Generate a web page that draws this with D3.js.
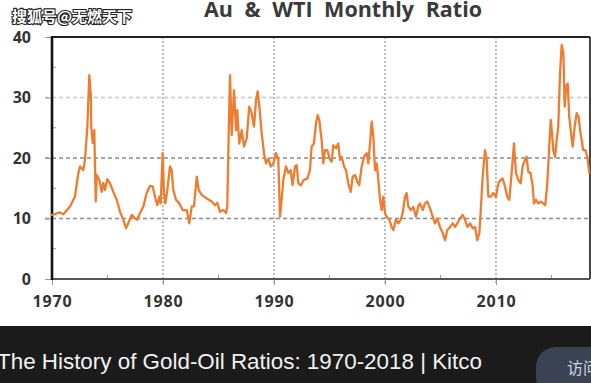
<!DOCTYPE html>
<html><head><meta charset="utf-8">
<script src="https://cdn.jsdelivr.net/npm/d3@7"></script>
<style>
html,body{margin:0;padding:0;background:#fff;overflow:hidden;}
svg{display:block;}
</style></head>
<body>
<svg id="c" width="591" height="383"></svg>
<script>
const titleText = "Au & WTI Monthly Ratio";
const watermark = "搜狐号@无燃天下";
const caption = "The History of Gold-Oil Ratios: 1970-2018 | Kitco";
const buttonText = "访问";
const yTicks = [0, 10, 20, 30, 40];
const yMinor = [5, 15, 25, 35];
const xTicks = [1970, 1980, 1990, 2000, 2010];
const xMinor = [1975, 1985, 1995, 2005, 2015];
const years = [1970.00,1970.72,1971.02,1971.62,1972.07,1972.37,1972.52,1972.82,1972.97,1973.18,1973.36,1973.49,1973.54,1973.67,1973.81,1973.94,1974.03,1974.26,1974.48,1974.62,1974.77,1974.98,1975.23,1975.52,1975.83,1976.13,1976.42,1976.67,1976.87,1977.18,1977.48,1977.68,1977.93,1978.23,1978.53,1978.83,1979.07,1979.28,1979.49,1979.67,1979.79,1979.97,1980.09,1980.21,1980.39,1980.63,1980.78,1980.93,1981.17,1981.47,1981.77,1982.14,1982.37,1982.59,1982.79,1983.04,1983.22,1983.49,1983.94,1984.39,1984.68,1984.89,1985.14,1985.43,1985.68,1985.79,1985.92,1986.04,1986.19,1986.40,1986.58,1986.69,1986.87,1987.09,1987.30,1987.54,1987.77,1987.99,1988.20,1988.38,1988.53,1988.68,1988.89,1989.10,1989.28,1989.49,1989.70,1989.94,1990.18,1990.39,1990.54,1990.69,1990.84,1991.08,1991.29,1991.50,1991.68,1991.89,1992.05,1992.19,1992.41,1992.70,1993.00,1993.24,1993.39,1993.60,1993.78,1993.94,1994.08,1994.30,1994.44,1994.59,1994.80,1995.05,1995.20,1995.34,1995.59,1995.79,1995.95,1996.10,1996.31,1996.49,1996.69,1996.91,1997.09,1997.30,1997.50,1997.68,1997.90,1998.11,1998.35,1998.50,1998.65,1998.80,1998.95,1999.10,1999.25,1999.40,1999.55,1999.70,1999.85,2000.00,2000.15,2000.39,2000.60,2000.75,2000.99,2001.20,2001.41,2001.59,2001.80,2001.95,2002.10,2002.32,2002.55,2002.79,2003.00,2003.15,2003.40,2003.60,2003.81,2004.05,2004.30,2004.50,2004.71,2004.95,2005.20,2005.41,2005.61,2005.86,2006.10,2006.31,2006.51,2006.76,2007.00,2007.21,2007.42,2007.66,2007.90,2008.11,2008.32,2008.50,2008.65,2008.80,2009.01,2009.16,2009.31,2009.52,2009.76,2010.00,2010.21,2010.42,2010.60,2010.81,2011.02,2011.20,2011.41,2011.62,2011.80,2012.01,2012.22,2012.40,2012.61,2012.76,2012.91,2013.12,2013.31,2013.42,2013.60,2013.81,2014.03,2014.26,2014.44,2014.62,2014.80,2014.93,2015.05,2015.16,2015.32,2015.47,2015.61,2015.77,2015.92,2016.07,2016.19,2016.31,2016.46,2016.60,2016.76,2016.91,2017.09,2017.27,2017.45,2017.57,2017.72,2017.86,2018.05,2018.23,2018.41];
const ratios = [10.6,11.0,10.7,12.0,13.6,17.5,18.6,18.0,19.7,25.0,33.7,30.7,25.0,22.5,24.6,12.8,17.2,16.4,14.4,15.9,14.7,16.5,15.8,14.4,13.1,11.1,9.8,8.4,9.2,10.6,10.0,9.8,10.9,12.0,14.2,15.4,15.3,13.6,12.2,13.6,12.5,20.8,14.2,12.5,14.7,18.6,18.0,14.7,13.1,12.5,11.4,11.4,9.2,12.0,12.0,16.9,14.7,13.9,13.3,12.8,12.2,12.6,11.1,11.4,10.9,12.0,24.0,33.7,23.8,31.2,24.6,27.9,22.4,24.6,21.9,23.2,28.5,27.4,25.2,29.6,31.0,28.5,24.1,20.8,19.1,19.9,18.6,19.1,20.8,19.7,10.3,13.1,16.4,18.6,17.5,18.0,15.5,18.6,18.8,15.8,15.5,16.4,16.6,18.0,21.9,22.4,25.7,27.1,26.3,22.8,19.1,21.3,21.3,19.7,19.4,22.1,21.6,22.4,19.7,20.2,18.6,18.0,15.8,14.4,16.9,17.2,16.1,15.5,18.6,20.2,20.8,19.1,22.4,26.0,23.5,18.0,19.1,16.4,13.1,11.4,13.6,10.9,10.3,9.8,8.6,8.1,9.8,9.2,9.8,10.9,13.6,14.2,12.0,11.4,11.9,10.3,12.0,12.5,11.4,12.5,12.8,11.7,10.3,9.2,10.0,8.6,7.6,6.4,8.1,8.6,9.2,8.6,9.2,10.0,10.6,9.8,8.6,9.2,8.4,8.6,6.4,7.6,12.0,16.9,21.3,19.7,13.6,13.6,14.2,13.6,15.8,16.4,16.6,15.3,13.6,13.1,17.5,22.4,17.5,16.4,15.8,18.6,19.7,20.2,17.7,17.5,15.3,12.5,13.1,12.5,12.8,12.5,12.2,15.8,21.9,26.3,24.1,21.3,20.2,23.0,25.2,34.0,38.7,37.3,28.5,31.8,32.3,26.8,24.1,21.9,25.2,27.4,26.8,24.6,23.0,21.3,21.3,20.2,17.5];

const svg = d3.select("#c");
const x = d3.scaleLinear().domain([1970, 2018.47]).range([52, 590]);
const y = d3.scaleLinear().domain([0, 40]).range([279, 37]);
const labelFont = "'Open Sans', 'DejaVu Sans', sans-serif";

// horizontal gridlines
svg.append("g").selectAll("line").data(yTicks.filter(v => v > 0 && v < 40)).join("line")
  .attr("x1", 45).attr("x2", x(2018.47))
  .attr("y1", d => y(d)).attr("y2", d => y(d))
  .attr("stroke", d => d === 30 ? "#c8c8c8" : "#8a8a8a")
  .attr("stroke-width", 1.3)
  .attr("stroke-dasharray", "4,3");

// vertical gridlines
svg.append("g").selectAll("line").data(xTicks.filter(v => v > 1970)).join("line")
  .attr("x1", d => x(d)).attr("x2", d => x(d))
  .attr("y1", y(40)).attr("y2", y(0) + 6)
  .attr("stroke", "#8a8a8a").attr("stroke-width", 1.1)
  .attr("stroke-dasharray", "2,2");

// minor ticks
svg.append("g").selectAll("line").data(yMinor).join("line")
  .attr("x1", x(1970)).attr("x2", x(1970) + 4)
  .attr("y1", d => y(d)).attr("y2", d => y(d))
  .attr("stroke", "#999").attr("stroke-width", 1);
svg.append("g").selectAll("line").data(xMinor).join("line")
  .attr("x1", d => x(d)).attr("x2", d => x(d))
  .attr("y1", y(0)).attr("y2", y(0) - 4)
  .attr("stroke", "#999").attr("stroke-width", 1);

// y axis
const yAxis = svg.append("g").attr("transform", `translate(${x(1970)},0)`)
  .call(d3.axisLeft(y).tickValues(yTicks).tickSize(7).tickPadding(14).tickFormat(d3.format("d")));
yAxis.select(".domain").remove();
yAxis.selectAll(".tick line").attr("stroke", "#999");
yAxis.selectAll(".tick text").attr("font-family", labelFont).attr("font-weight", 700)
  .attr("font-size", 16).attr("fill", "#333");

// x axis
const xAxis = svg.append("g").attr("transform", `translate(0,${y(0)})`)
  .call(d3.axisBottom(x).tickValues(xTicks).tickSize(6).tickPadding(11).tickFormat(d3.format("d")));
xAxis.select(".domain").remove();
xAxis.selectAll(".tick line").attr("stroke", "#999");
xAxis.selectAll(".tick text").attr("font-family", labelFont).attr("font-weight", 700)
  .attr("font-size", 16).attr("fill", "#333").attr("letter-spacing", 0.8);

// frame
svg.append("line").attr("x1", x(1970)).attr("x2", x(2018.47)).attr("y1", y(40)).attr("y2", y(40))
  .attr("stroke", "#222").attr("stroke-width", 2);
svg.append("line").attr("x1", x(2018.47)).attr("x2", x(2018.47)).attr("y1", y(40)).attr("y2", y(0))
  .attr("stroke", "#444").attr("stroke-width", 2);
svg.append("line").attr("x1", x(1970)).attr("x2", x(2018.47)).attr("y1", y(0)).attr("y2", y(0))
  .attr("stroke", "#555").attr("stroke-width", 1.8);
svg.append("line").attr("x1", x(1970)).attr("x2", x(1970)).attr("y1", y(40) - 1).attr("y2", y(0) + 1)
  .attr("stroke", "#111").attr("stroke-width", 2.6);

// data line
const line = d3.line().x((d, i) => x(years[i])).y(d => y(d));
svg.append("path").datum(ratios)
  .attr("d", line)
  .attr("fill", "none").attr("stroke", "#ED7D31").attr("stroke-width", 2.3)
  .attr("stroke-linejoin", "round").attr("stroke-linecap", "round");

// title
svg.append("text").attr("x", 343).attr("y", 17).attr("text-anchor", "middle")
  .attr("font-family", labelFont).attr("font-weight", 700).attr("font-size", 21.5)
  .attr("word-spacing", 6).attr("fill", "#3a3a3a").text(titleText);

// watermark
svg.append("text").attr("x", 12).attr("y", 22)
  .attr("font-family", "'Noto Sans CJK SC', sans-serif").attr("font-size", 15).attr("font-weight", 700)
  .attr("fill", "#fff").attr("stroke", "#222").attr("stroke-width", 2.2)
  .attr("paint-order", "stroke").text(watermark);

// bottom bar
svg.append("rect").attr("x", 0).attr("y", 326).attr("width", 591).attr("height", 57).attr("fill", "#1b1b1b");
svg.append("text").attr("x", -3).attr("y", 369)
  .attr("font-family", "'Liberation Sans', Arial, sans-serif").attr("font-size", 22.4)
  .attr("fill", "#f2f2f2").text(caption);
svg.append("rect").attr("x", 536).attr("y", 347).attr("width", 90).attr("height", 50).attr("rx", 20)
  .attr("fill", "#3b4252");
svg.append("text").attr("x", 567).attr("y", 374)
  .attr("font-family", "'Noto Sans CJK SC', sans-serif").attr("font-size", 16)
  .attr("fill", "#c9d3e6").text(buttonText);
</script>
</body></html>
